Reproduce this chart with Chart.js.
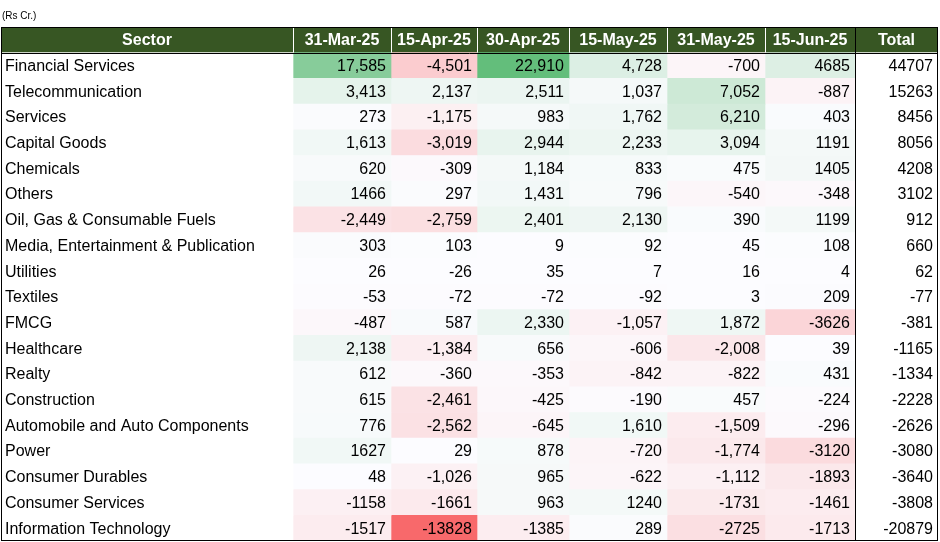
<!DOCTYPE html>
<html><head><meta charset="utf-8">
<script src="https://cdn.jsdelivr.net/npm/chart.js@4.4.1/dist/chart.umd.min.js"></script>
<style>html,body{margin:0;padding:0;background:#fff}#w{width:940px;height:542px}</style>
</head><body><div id="w"><canvas id="c"></canvas></div>
<script>
const unitLabel = "(Rs Cr.)";
const headers = ["Sector","31-Mar-25","15-Apr-25","30-Apr-25","15-May-25","31-May-25","15-Jun-25","Total"];
const sectors = ["Financial Services","Telecommunication","Services","Capital Goods","Chemicals","Others","Oil, Gas & Consumable Fuels","Media, Entertainment & Publication","Utilities","Textiles","FMCG","Healthcare","Realty","Construction","Automobile and Auto Components","Power","Consumer Durables","Consumer Services","Information Technology"];
const mar31 = ["17,585","3,413","273","1,613","620","1466","-2,449","303","26","-53","-487","2,138","612","615","776","1627","48","-1158","-1517"];
const apr15 = ["-4,501","2,137","-1,175","-3,019","-309","297","-2,759","103","-26","-72","587","-1,384","-360","-2,461","-2,562","29","-1,026","-1661","-13828"];
const apr30 = ["22,910","2,511","983","2,944","1,184","1,431","2,401","9","35","-72","2,330","656","-353","-425","-645","878","965","963","-1385"];
const may15 = ["4,728","1,037","1,762","2,233","833","796","2,130","92","7","-92","-1,057","-606","-842","-190","1,610","-720","-622","1240","289"];
const may31 = ["-700","7,052","6,210","3,094","475","-540","390","45","16","3","1,872","-2,008","-822","457","-1,509","-1,774","-1,112","-1731","-2725"];
const jun15 = ["4685","-887","403","1191","1405","-348","1199","108","4","209","-3626","39","431","-224","-296","-3120","-1893","-1461","-1713"];
const total = ["44707","15263","8456","8056","4208","3102","912","660","62","-77","-381","-1165","-1334","-2228","-2626","-3080","-3640","-3808","-20879"];

const valueCols = [mar31,apr15,apr30,may15,may31,jun15];
const allCols = [null, ...valueCols, total];
const colEdges = [0,292,390,476,568,666,764,854,937];
const num = s => Number(String(s).replace(/,/g,''));
const allVals = valueCols.flat().map(num);
const vMax = Math.max(...allVals), vMin = Math.min(...allVals);
function mix(a,b,t){return 'rgb('+a.map((x,i)=>Math.round(x+(b[i]-x)*t)).join(',')+')';}
const RED=[248,105,107], MID=[252,252,255], GRN=[99,190,123];
function heat(v){return v>=0?mix(MID,GRN,v/vMax):mix(MID,RED,v/vMin);}

const rowLabels = ["__header", ...sectors];
const datasets = headers.map((h,ci)=>({
  label:h,
  data: rowLabels.map(()=>[colEdges[ci],colEdges[ci+1]]),
  backgroundColor: rowLabels.map((r,ri)=>{
    if(ri===0) return '#375623';
    if(ci===0||ci===7) return '#ffffff';
    return heat(num(valueCols[ci-1][ri-1]));
  }),
  borderWidth:0, barPercentage:1, categoryPercentage:1, grouped:false
}));

const textPlugin = {
  id:'txt',
  afterDatasetsDraw(chart){
    const ctx=chart.ctx, a=chart.chartArea;
    ctx.save();
    ctx.fillStyle='#000'; ctx.font='10px "Liberation Sans"'; ctx.textBaseline='middle'; ctx.textAlign='left';
    ctx.fillText(unitLabel,2,16);
    chart.data.datasets.forEach((ds,ci)=>{
      const meta=chart.getDatasetMeta(ci);
      meta.data.forEach((el,ri)=>{
        const l=Math.min(el.x,el.base), r=Math.max(el.x,el.base), y=el.y+1;
        if(ri===0){
          ctx.font='bold 16px "Liberation Sans"'; ctx.fillStyle='#fff'; ctx.textAlign='center';
          ctx.fillText(headers[ci],(l+r)/2,y);
          if(ci>0){ctx.strokeStyle='#ffffff';ctx.lineWidth=1;ctx.beginPath();ctx.moveTo(Math.round(l)+0.5,el.y-el.height/2);ctx.lineTo(Math.round(l)+0.5,el.y+el.height/2);ctx.stroke();}
        } else {
          ctx.font='16px "Liberation Sans"'; ctx.fillStyle='#000';
          if(ci===0){ctx.textAlign='left';ctx.fillText(sectors[ri-1],l+4,y);}
          else {ctx.textAlign='right';ctx.fillText(allCols[ci][ri-1],r-5,y);}
        }
      });
    });
    // borders
    ctx.strokeStyle='#000'; ctx.lineWidth=1;
    ctx.strokeRect(Math.round(a.left)+0.5,Math.round(a.top)+0.5,Math.round(a.right-a.left)-1,Math.round(a.bottom-a.top)-1);
    const hb=chart.getDatasetMeta(0).data[0];
    const yh=Math.round(hb.y+hb.height/2)+0.5;
    ctx.beginPath(); ctx.moveTo(a.left,yh); ctx.lineTo(a.right,yh); ctx.stroke();
    const xt=Math.round(chart.scales.x.getPixelForValue(colEdges[7]))+0.5;
    ctx.beginPath(); ctx.moveTo(xt,a.top); ctx.lineTo(xt,a.bottom); ctx.stroke();
    ctx.restore();
  }
};

new Chart(document.getElementById('c'),{
  type:'bar',
  data:{labels:rowLabels,datasets},
  options:{
    indexAxis:'y', responsive:true, maintainAspectRatio:false, animation:false,
    layout:{padding:{left:1,right:2,top:27,bottom:1}},
    plugins:{legend:{display:false},tooltip:{enabled:false}},
    scales:{
      x:{type:'linear',min:colEdges[0],max:colEdges[colEdges.length-1],display:false},
      y:{type:'category',display:false,grid:{display:false}}
    }
  },
  plugins:[textPlugin]
});
</script></body></html>
